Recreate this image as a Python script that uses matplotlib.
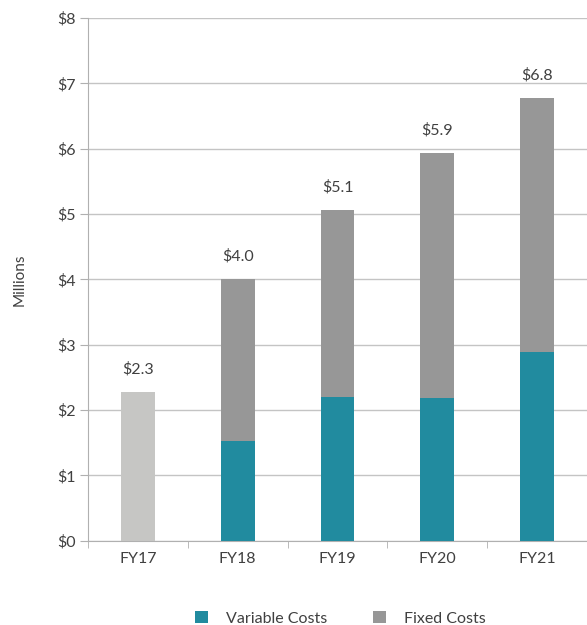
import matplotlib.pyplot as plt
from matplotlib.patches import Patch

# values (millions)
years = ['FY17', 'FY18', 'FY19', 'FY20', 'FY21']
totals = [2.27, 4.01, 5.06, 5.94, 6.78]
variable = [0, 1.53, 2.20, 2.19, 2.89]
fixed = [0, 2.48, 2.86, 3.75, 3.89]
total_labels = ['$2.3', '$4.0', '$5.1', '$5.9', '$6.8']
y_ticks = [0, 1, 2, 3, 4, 5, 6, 7, 8]

TEAL = '#218b9f'
GRAY = '#979797'
LIGHT = '#c6c6c4'
TXT = '#404040'

plt.rcParams['font.family'] = ['Lato', 'DejaVu Sans']

fig = plt.figure(figsize=(5.87, 6.25), dpi=100)
ax = fig.add_axes([0.15, 0.135, 0.85, 0.836])

x = list(range(len(years)))
w = 0.34

# FY17 has only a total
ax.bar(x[0], totals[0], width=w, color=LIGHT, zorder=3)
ax.bar(x[1:], variable[1:], width=w, color=TEAL, zorder=3)
ax.bar(x[1:], fixed[1:], width=w, bottom=variable[1:], color=GRAY, zorder=3)

for i, t in enumerate(totals):
    ax.annotate(total_labels[i], (x[i], t), xytext=(0, 16.5), textcoords='offset points',
                ha='center', va='center', fontsize=11.5, color=TXT)

ax.set_xlim(-0.5, 4.5)
ax.set_ylim(0, 8)
ax.set_yticks(y_ticks)
ax.set_yticklabels(['$%d' % v for v in y_ticks])
ax.set_xticks(x)
ax.set_xticklabels(years)
ax.set_xticks([i + 0.5 for i in range(-1, 5)], minor=True)

ax.grid(axis='y', color='#c4c4c4', linewidth=1, zorder=0)
for s in ['top', 'right']:
    ax.spines[s].set_visible(False)
for s in ['left', 'bottom']:
    ax.spines[s].set_color('#b0b0b0')

ax.tick_params(axis='x', which='major', length=0, pad=8, labelsize=11.5, labelcolor=TXT)
ax.tick_params(axis='x', which='minor', length=5, color='#b0b0b0')
ax.tick_params(axis='y', length=6, color='#b0b0b0', pad=3, labelsize=11.5, labelcolor=TXT)

ax.set_ylabel('Millions', fontsize=11, color=TXT, labelpad=22)

handles = [Patch(facecolor=TEAL, label='Variable Costs'),
           Patch(facecolor=GRAY, label='Fixed Costs')]
fig.legend(handles=handles, loc='lower center', bbox_to_anchor=(0.58, -0.024), ncol=2,
           frameon=False, fontsize=11.5, handlelength=0.8, handleheight=0.8,
           columnspacing=2.9, handletextpad=1.1, labelcolor=TXT)

fig.savefig('out.png', dpi=100)
